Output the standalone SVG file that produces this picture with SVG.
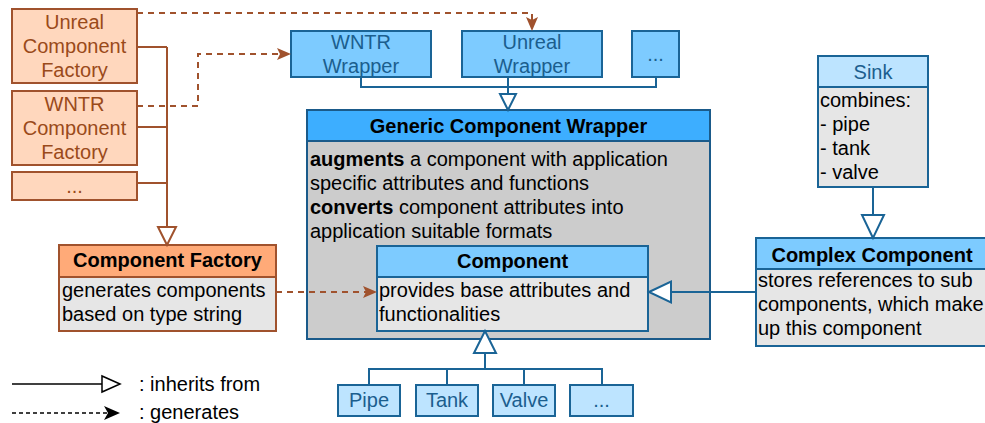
<svg xmlns="http://www.w3.org/2000/svg" width="985" height="423" viewBox="0 0 985 423">
<defs>
<style>
text{font-family:"Liberation Sans",Arial,sans-serif;font-size:20px;}
.fac{fill:#ffd7bd;stroke:#a0522d;stroke-width:2;}
.factxt{fill:#9a4a1a;text-anchor:middle;}
.brown{fill:none;stroke:#a0522d;stroke-width:2;}
.dash{fill:none;stroke:#a0522d;stroke-width:2;stroke-dasharray:6 5;}
.blue{fill:none;stroke:#1a6496;stroke-width:2;}
.tri{fill:#fff;stroke:#1a6496;stroke-width:2;}
.tribr{fill:#fff;stroke:#a0522d;stroke-width:2;}
.wr{fill:#7dcbff;stroke:#1a6496;stroke-width:2;}
.lt{fill:#bde4ff;stroke:#1a6496;stroke-width:2;}
.body{fill:#e6e6e6;stroke:#1a6496;stroke-width:2;}
.wtxt{fill:#1b5e8e;text-anchor:middle;}
.hd{font-weight:bold;text-anchor:middle;fill:#000;}
.b{font-weight:bold;}
.blk{fill:#000;}
</style>
</defs>

<g id="unreal-factory">
  <rect class="fac" x="12" y="9" width="125" height="74"/>
  <text class="factxt" x="74.5" y="29">Unreal</text>
  <text class="factxt" x="74.5" y="53">Component</text>
  <text class="factxt" x="74.5" y="77">Factory</text>
</g>
<g id="wntr-factory">
  <rect class="fac" x="12" y="91" width="125" height="74"/>
  <text class="factxt" x="74.5" y="111">WNTR</text>
  <text class="factxt" x="74.5" y="135">Component</text>
  <text class="factxt" x="74.5" y="159">Factory</text>
</g>
<g id="more-factory">
  <rect class="fac" x="12" y="172" width="125" height="28"/>
  <text class="factxt" x="74.5" y="193">...</text>
</g>

<g id="component-factory">
  <rect x="59" y="245" width="217" height="86" fill="#e6e6e6" stroke="#a0522d" stroke-width="2"/>
  <rect x="59" y="245" width="217" height="32" fill="#ffaa78" stroke="#a0522d" stroke-width="2"/>
  <text class="hd" x="167.5" y="267">Component Factory</text>
  <text class="blk" x="62" y="297">generates components</text>
  <text class="blk" x="62" y="321">based on type string</text>
</g>

<g id="wntr-wrapper">
  <rect class="wr" x="291" y="31" width="140" height="46"/>
  <text class="wtxt" x="361" y="49">WNTR</text>
  <text class="wtxt" x="361" y="73">Wrapper</text>
</g>
<g id="unreal-wrapper">
  <rect class="wr" x="462" y="31" width="140" height="46"/>
  <text class="wtxt" x="532" y="49">Unreal</text>
  <text class="wtxt" x="532" y="73">Wrapper</text>
</g>
<g id="more-wrapper">
  <rect class="wr" x="632" y="31" width="47" height="46"/>
  <text class="wtxt" x="655.5" y="61">...</text>
</g>

<g id="generic-wrapper">
  <rect x="307" y="110" width="403" height="229" fill="#cccccc" stroke="#1a5a8a" stroke-width="2"/>
  <rect x="307" y="110" width="403" height="31" fill="#3daeff" stroke="#1a5a8a" stroke-width="2"/>
  <text class="hd" x="508.5" y="133">Generic Component Wrapper</text>
  <text class="blk" x="310" y="166"><tspan class="b">augments</tspan> a component with application</text>
  <text class="blk" x="310" y="190">specific attributes and functions</text>
  <text class="blk" x="310" y="214"><tspan class="b">converts</tspan> component attributes into</text>
  <text class="blk" x="310" y="238">application suitable formats</text>
</g>

<g id="component">
  <rect class="body" x="377" y="246" width="271" height="85"/>
  <rect class="wr" x="377" y="246" width="271" height="31"/>
  <text class="hd" x="512.5" y="268">Component</text>
  <text class="blk" x="379" y="297">provides base attributes and</text>
  <text class="blk" x="379" y="321">functionalities</text>
</g>

<g id="complex-component">
  <rect class="body" x="756" y="238" width="232" height="108"/>
  <rect class="wr" x="756" y="238" width="232" height="31"/>
  <text class="hd" x="872" y="262">Complex Component</text>
  <text class="blk" x="758" y="287">stores references to sub</text>
  <text class="blk" x="758" y="311">components, which make</text>
  <text class="blk" x="758" y="335">up this component</text>
</g>

<g id="sink">
  <rect class="body" x="818" y="56" width="110" height="131"/>
  <rect class="lt" x="818" y="56" width="110" height="31"/>
  <text class="wtxt" x="873" y="79">Sink</text>
  <text class="blk" x="820" y="107">combines:</text>
  <text class="blk" x="820" y="131">- pipe</text>
  <text class="blk" x="820" y="155">- tank</text>
  <text class="blk" x="820" y="179">- valve</text>
</g>

<g id="pipe">
  <rect class="lt" x="338" y="385" width="62" height="31"/>
  <text class="wtxt" x="369" y="407">Pipe</text>
</g>
<g id="tank">
  <rect class="lt" x="416" y="385" width="62" height="31"/>
  <text class="wtxt" x="447" y="407">Tank</text>
</g>
<g id="valve">
  <rect class="lt" x="493" y="385" width="62" height="31"/>
  <text class="wtxt" x="524" y="407">Valve</text>
</g>
<g id="more-component">
  <rect class="lt" x="570" y="385" width="63" height="31"/>
  <text class="wtxt" x="601.5" y="407">...</text>
</g>

<g id="legend">
  <text class="blk" x="139" y="391">: inherits from</text>
  <text class="blk" x="139" y="419">: generates</text>
</g>

<g id="connectors">
  <path class="brown" d="M137 47H167M137 127H167M137 183H167M167 47V227"/>
  <path class="tribr" d="M167 245L158 227H176Z"/>
  <path class="dash" d="M137 13H532V20"/>
  <path fill="#a0522d" d="M532 31L526 17L532 20L538 17Z"/>
  <path class="dash" d="M137 106H198V54H281"/>
  <path fill="#a0522d" d="M291 54L277 48L280 54L277 60Z"/>
  <path class="dash" d="M276 292H367"/>
  <path fill="#a0522d" d="M377 292L363 286L366 292L363 298Z"/>
  <path class="blue" d="M361 77V87H656V77M508 77V94"/>
  <path class="tri" d="M508 110L500 94H516Z"/>
  <path class="blue" d="M756 292H671"/>
  <path class="tri" d="M649 292L671 281.5V302.5Z"/>
  <path class="blue" d="M873 187V215"/>
  <path class="tri" d="M873 238L862 215H884Z"/>
  <path class="blue" d="M369 385V369H602V385M447 369V385M524 369V385M485 369V353"/>
  <path class="tri" d="M485 331L474 353H496Z"/>
  <path d="M12 384H102" stroke="#000" stroke-width="1.5" fill="none"/>
  <path d="M120 384L102 376V392Z" fill="#fff" stroke="#000" stroke-width="1.5"/>
  <path d="M12 413H108" stroke="#000" stroke-width="1.5" stroke-dasharray="4 3" fill="none"/>
  <path d="M120 413L104 406L108 413L104 420Z" fill="#000"/>
</g>
</svg>
